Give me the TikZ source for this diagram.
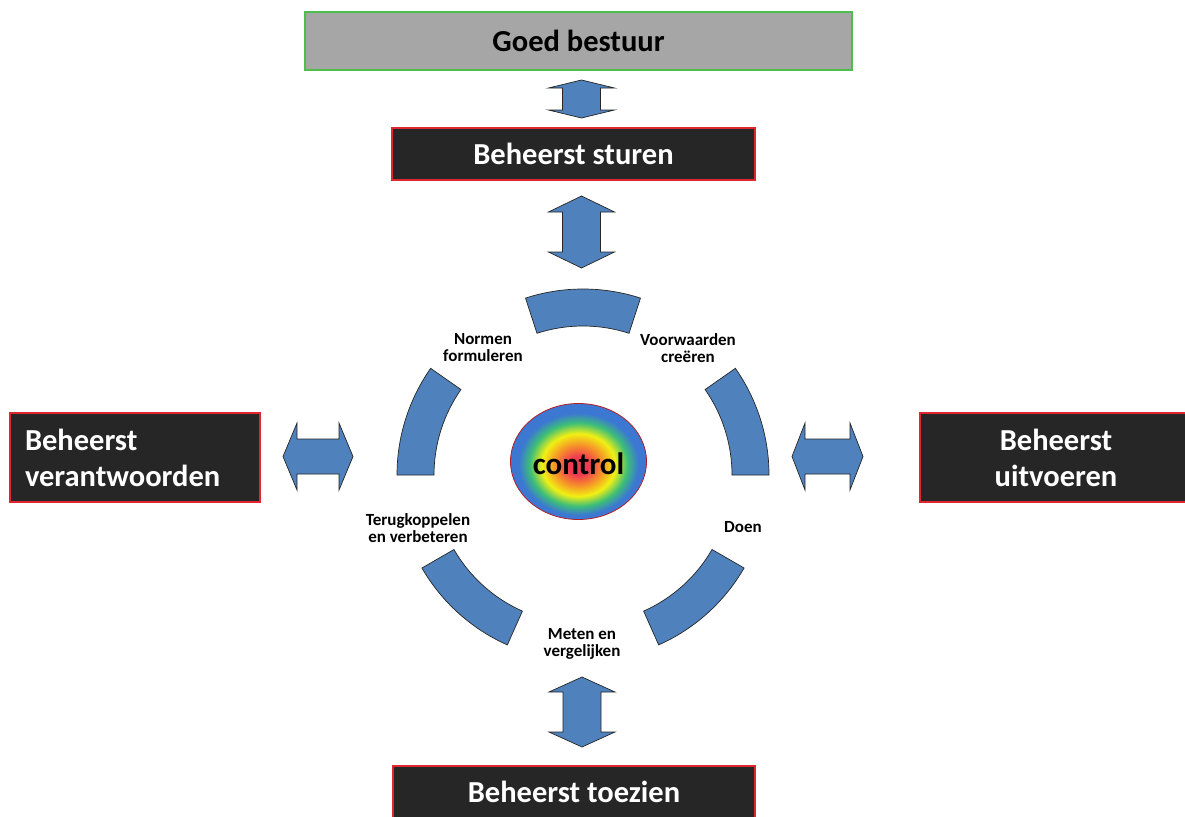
\documentclass[tikz,border=0pt]{standalone}
\usepackage{fontspec}
\setmainfont{Carlito}
\usetikzlibrary{calc,shapes.geometric}
\definecolor{shapeblue}{HTML}{4F81BD}
\definecolor{boxdark}{HTML}{262626}
\definecolor{boxred}{HTML}{E0262E}
\definecolor{gbgray}{HTML}{A6A6A6}
\definecolor{gbgreen}{HTML}{4DBE4D}
\definecolor{cR}{RGB}{240,60,80}
\definecolor{cO}{RGB}{246,150,40}
\definecolor{cY}{RGB}{240,240,20}
\definecolor{cG}{RGB}{60,190,120}
\definecolor{cB}{RGB}{60,120,210}
\pgfdeclareradialshading{ctrlshade}{\pgfpoint{0bp}{-2bp}}{%
 color(0bp)=(cR); color(4bp)=(cR); color(9bp)=(cO); color(13.5bp)=(cY);
 color(18bp)=(cG); color(22bp)=(cB); color(50bp)=(cB)}
\tikzset{
 bigtext/.style={font=\fontsize{30.5}{36}\selectfont\bfseries},
 smalltext/.style={font=\fontsize{17}{17}\selectfont\bfseries, align=center, text=black},
 darkbox/.style={draw=boxred, fill=boxdark, line width=1.2pt, inner sep=0pt, outer sep=0pt, text=white, bigtext},
 gbbox/.style={draw=gbgreen, fill=gbgray, line width=1.2pt, inner sep=0pt, outer sep=0pt, text=black, bigtext},
 blockarrow/.style={fill=shapeblue, draw=black!85, line width=0.7pt, line join=miter},
 seg/.style={fill=shapeblue, draw=black!85, line width=0.7pt},
 pics/vdarrow/.style 2 args={code={
   \filldraw[blockarrow] (0,#1) -- (33,#1-#2) -- (19,#1-#2) -- (19,-#1+#2) -- (33,-#1+#2) -- (0,-#1)
     -- (-33,-#1+#2) -- (-19,-#1+#2) -- (-19,#1-#2) -- (-33,#1-#2) -- cycle;}},
 pics/hdarrow/.style 2 args={code={
   \filldraw[blockarrow] (#1,0) -- (#1-#2,33.5) -- (#1-#2,17.5) -- (-#1+#2,17.5) -- (-#1+#2,33.5) -- (-#1,0)
     -- (-#1+#2,-33.5) -- (-#1+#2,-17.5) -- (#1-#2,-17.5) -- (#1-#2,-33.5) -- cycle;}},
}
\begin{document}
\begin{tikzpicture}[x=1pt,y=1pt]
\useasboundingbox[fill=white] (0,0) rectangle (1185,-816);

% boxes
\node[gbbox, minimum width=547pt, minimum height=58pt] (gb) at (578.5,-41) {Goed bestuur};
\node[darkbox, minimum width=363pt, minimum height=52pt] (sturen) at (573.5,-154) {Beheerst sturen};
\node[darkbox, minimum width=362pt, minimum height=52pt] (toezien) at (574,-792) {Beheerst toezien};
\node[darkbox, minimum width=250pt, minimum height=89pt, text width=220pt, align=left] (verantw) at (135,-457.5) {Beheerst\\verantwoorden};
\node[darkbox, minimum width=272pt, minimum height=89pt, align=center] (uitv) at (1056,-457.5) {Beheerst\\uitvoeren};

% ring centre
\coordinate (C) at (583,-475);

% ring segments
\foreach \a/\b in {72/108, 145/180, 210/246, 294/330, 0/35}{
  \filldraw[seg] ($(C)+(\a:186)$) arc[start angle=\a, end angle=\b, radius=186pt]
     -- ($(C)+(\b:149)$) arc[start angle=\b, end angle=\a, radius=149pt] -- cycle;
}

% centre ellipse
\node[ellipse, draw=boxred!80!black, line width=0.8pt, shading=ctrlshade, minimum width=136pt, minimum height=116pt, inner sep=0pt] (ctrl) at (578.5,-461.5) {};
\node[font=\fontsize{31}{32}\selectfont\bfseries, text=black] (ctrltext) at (578.5,-464) {control};

% step labels
\node[smalltext] (normen) at (483,-348) {Normen\\formuleren};
\node[smalltext] (voorw) at (688,-348) {Voorwaarden\\creëren};
\node[smalltext] (terug) at (418,-528) {Terugkoppelen\\en verbeteren};
\node[smalltext] (doen) at (743,-527) {Doen};
\node[smalltext] (meten) at (582,-644) {Meten en\\vergelijken};

% block arrows
\pic at (581.5,-99) {vdarrow={19}{8}};
\pic at (581.5,-232) {vdarrow={36}{16}};
\pic at (582,-712) {vdarrow={35}{15}};
\pic at (318,-456.5) {hdarrow={35}{14}};
\pic at (827.5,-456.5) {hdarrow={35.5}{13}};
\end{tikzpicture}
\end{document}
